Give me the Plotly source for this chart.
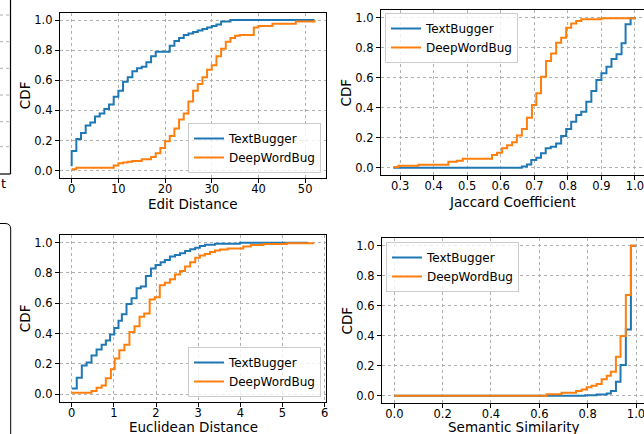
import plotly.graph_objects as go

# ---------------- data ----------------
series_names = ["TextBugger", "DeepWordBug"]

# Edit Distance
edit_tb_x = [0, 0, 1, 2, 3, 4, 5, 6, 7, 8, 9, 10, 11, 12, 13, 14, 15, 16, 17, 18, 21, 22, 23, 24,
             25, 26, 27, 28, 29, 30, 31, 32, 34, 52]
edit_tb_y = [0.03, 0.13, 0.21, 0.25, 0.30, 0.32, 0.36, 0.38, 0.41, 0.44, 0.49, 0.53, 0.59, 0.62, 0.66,
             0.68, 0.69, 0.72, 0.76, 0.79, 0.83, 0.86, 0.88, 0.90, 0.91, 0.92, 0.93, 0.94, 0.95, 0.96,
             0.97, 0.99, 1.0, 1.0]
edit_dwb_x = [0, 1, 9, 10, 11, 12, 13, 15, 17, 18, 19, 20, 21, 22, 23, 24, 25, 26, 27, 28, 29, 30,
              31, 32, 33, 34, 35, 36, 39, 40, 43, 48, 52]
edit_dwb_y = [0.01, 0.02, 0.035, 0.05, 0.055, 0.06, 0.065, 0.075, 0.09, 0.115, 0.15, 0.195, 0.23,
              0.28, 0.34, 0.38, 0.46, 0.53, 0.575, 0.62, 0.67, 0.70, 0.76, 0.81, 0.855, 0.88, 0.895,
              0.90, 0.95, 0.96, 0.975, 0.99, 1.0]

# Jaccard Coefficient
jac_tb_x = [0.28, 0.663, 0.678, 0.691, 0.706, 0.72, 0.734, 0.749, 0.765, 0.78, 0.795, 0.81, 0.825,
            0.84, 0.855, 0.87, 0.885, 0.9, 0.915, 0.93, 0.945, 0.96, 0.972, 0.987, 1.0]
jac_tb_y = [0.0, 0.008, 0.022, 0.051, 0.067, 0.096, 0.129, 0.14, 0.162, 0.211, 0.258, 0.307, 0.351,
            0.373, 0.44, 0.511, 0.585, 0.629, 0.673, 0.724, 0.756, 0.829, 0.956, 0.996, 1.0]
jac_dwb_x = [0.28, 0.295, 0.355, 0.444, 0.469, 0.487, 0.574, 0.589, 0.604, 0.619, 0.634, 0.648,
             0.663, 0.678, 0.693, 0.706, 0.72, 0.735, 0.75, 0.765, 0.78, 0.795, 0.81, 0.825, 0.84,
             0.90, 1.0]
jac_dwb_y = [0.005, 0.013, 0.02, 0.04, 0.047, 0.06, 0.085, 0.10, 0.13, 0.15, 0.17, 0.215, 0.258,
             0.333, 0.418, 0.496, 0.607, 0.711, 0.762, 0.833, 0.867, 0.933, 0.962, 0.978, 0.989,
             0.996, 1.0]

# Euclidean Distance
euc_tb_x = [0, 0.12, 0.24, 0.355, 0.47, 0.59, 0.71, 0.81, 0.91, 1.01, 1.11, 1.19, 1.30, 1.42, 1.54,
            1.64, 1.76, 1.88, 1.99, 2.11, 2.21, 2.33, 2.45, 2.57, 2.69, 2.81, 2.93, 3.04, 3.16, 3.40,
            3.99, 5.6]
euc_tb_y = [0.036, 0.108, 0.188, 0.208, 0.254, 0.295, 0.325, 0.353, 0.394, 0.436, 0.484, 0.527,
            0.595, 0.632, 0.699, 0.71, 0.78, 0.83, 0.852, 0.87, 0.886, 0.908, 0.918, 0.93, 0.945,
            0.957, 0.967, 0.978, 0.987, 0.993, 1.0, 1.0]
euc_dwb_x = [0, 0.47, 0.59, 0.71, 0.81, 0.93, 1.02, 1.13, 1.25, 1.37, 1.49, 1.61, 1.72, 1.85, 1.97,
             2.09, 2.21, 2.33, 2.45, 2.57, 2.69, 2.81, 2.93, 3.04, 3.16, 3.28, 3.40, 3.52, 3.70, 4.07,
             4.25, 4.55, 5.1, 5.73]
euc_dwb_y = [0.008, 0.02, 0.042, 0.056, 0.104, 0.164, 0.235, 0.29, 0.325, 0.41, 0.448, 0.51, 0.532,
             0.625, 0.64, 0.718, 0.735, 0.758, 0.79, 0.812, 0.843, 0.87, 0.9, 0.915, 0.925, 0.938,
             0.948, 0.955, 0.962, 0.975, 0.985, 0.992, 0.996, 1.0]

# Semantic Similarity
sem_tb_x = [0, 0.79, 0.837, 0.879, 0.896, 0.917, 0.936, 0.958, 0.979, 1.0]
sem_tb_y = [0.0, 0.003, 0.008, 0.015, 0.031, 0.093, 0.204, 0.442, 1.0, 1.0]
sem_dwb_x = [0, 0.63, 0.692, 0.752, 0.775, 0.796, 0.816, 0.837, 0.858, 0.879, 0.896, 0.917, 0.936,
             0.958, 0.979, 1.0]
sem_dwb_y = [0.0, 0.009, 0.02, 0.031, 0.042, 0.056, 0.067, 0.078, 0.109, 0.133, 0.16, 0.26, 0.398,
             0.671, 1.0, 1.0]

x_titles = ["Edit Distance", "Jaccard Coefficient", "Euclidean Distance", "Semantic Similarity"]
y_title = "CDF"

# ---------------- styling / layout ----------------
W, H = 644, 434
FONT = "DejaVu Sans"
BLUE, ORANGE = "#1f77b4", "#ff7f0e"


def fx(px):
    return px / W


def fy(py):
    return 1 - py / H


fig = go.Figure()

panels = [
    (edit_tb_x, edit_tb_y, edit_dwb_x, edit_dwb_y),
    (jac_tb_x, jac_tb_y, jac_dwb_x, jac_dwb_y),
    (euc_tb_x, euc_tb_y, euc_dwb_x, euc_dwb_y),
    (sem_tb_x, sem_tb_y, sem_dwb_x, sem_dwb_y),
]
for i, (bx, by, ox, oy) in enumerate(panels):
    k = "" if i == 0 else str(i + 1)
    lg = "legend" + k
    for xs, ys, col, nm in ((bx, by, BLUE, series_names[0]), (ox, oy, ORANGE, series_names[1])):
        fig.add_trace(go.Scatter(
            x=xs, y=ys, mode="lines", name=nm,
            line=dict(color=col, width=2, shape="hv"),
            xaxis="x" + k, yaxis="y" + k, legend=lg, showlegend=True,
        ))

axis_common = dict(
    showline=True, linecolor="black", linewidth=1.2,
    ticks="outside", ticklen=4, tickwidth=1, tickcolor="black",
    showgrid=True, gridcolor="#b0b0b0", griddash="dot", gridwidth=1,
    zeroline=False, automargin=False, ticklabeloverflow="allow",
    tickfont=dict(family=FONT, size=11.5, color="black"),
)

# pixel geometry of each panel: (left, right, top, bottom, xrange, xtick settings, mirror_y, title y)
geo = [
    (60, 325.7, 12.5, 178.2, [-2.5, 54.4], dict(tick0=0, dtick=10, tickformat="d"), True, 203.5),
    (381, 644, 10.2, 175.2, [0.2432, 1.0269], dict(tick0=0.3, dtick=0.1, tickformat=".1f"), False, 201.5),
    (60, 326, 235.1, 401.6, [-0.2776, 6.033], dict(tick0=0, dtick=1, tickformat="d"), True, 427),
    (382, 644, 238.2, 403.2, [-0.0509, 1.0331], dict(tick0=0, dtick=0.2, tickformat=".1f"), False, 427),
]

layout = dict(
    width=W, height=H, margin=dict(l=0, r=0, t=0, b=0),
    paper_bgcolor="white", plot_bgcolor="white", template="none",
    font=dict(family=FONT, color="black"),
)
annotations = []
for i, (l, r, t, b, xr, xt, my, ty) in enumerate(geo):
    k = "" if i == 0 else str(i + 1)
    xa = dict(axis_common, domain=[fx(l), fx(r)], range=xr, anchor="y" + k, mirror=True,
              tickmode="linear", ticklabelstandoff=-4, **xt)
    ya = dict(axis_common, domain=[fy(b), fy(t)], range=[-0.05, 1.05], anchor="x" + k, mirror=my,
              tickmode="linear", tick0=0, dtick=0.2, tickformat=".1f",
              title=dict(text=y_title, font=dict(family=FONT, size=13.5, color="black"), standoff=0))
    layout["xaxis" + k] = xa
    layout["yaxis" + k] = ya
    # x-axis title
    annotations.append(dict(text=x_titles[i], xref="paper", yref="paper", x=fx((l + r) / 2), y=fy(ty),
                            xanchor="center", yanchor="middle", showarrow=False, borderpad=0,
                            font=dict(family=FONT, size=13.5, color="black")))

leg_common = dict(bgcolor="rgba(255,255,255,0.8)", bordercolor="#cccccc", borderwidth=1,
                  font=dict(family=FONT, size=12, color="black"), tracegroupgap=0, itemwidth=30)
layout["legend"] = dict(leg_common, x=fx(321), xanchor="right", y=fy(173), yanchor="bottom")
layout["legend2"] = dict(leg_common, x=fx(385), xanchor="left", y=fy(13), yanchor="top")
layout["legend3"] = dict(leg_common, x=fx(321), xanchor="right", y=fy(397), yanchor="bottom")
layout["legend4"] = dict(leg_common, x=fx(386), xanchor="left", y=fy(242), yanchor="top")

# cropped neighbouring panel pieces on the left edge
shapes = [
    dict(type="line", xref="paper", yref="paper", x0=fx(10.5), x1=fx(10.5), y0=fy(0), y1=fy(174),
         line=dict(color="black", width=1.2)),
    dict(type="line", xref="paper", yref="paper", x0=fx(0), x1=fx(10.5), y0=fy(174), y1=fy(174),
         line=dict(color="black", width=1.2)),
    dict(type="path", xref="paper", yref="paper",
         path="M {:.5f},{:.5f} L {:.5f},{:.5f} Q {:.5f},{:.5f} {:.5f},{:.5f} L {:.5f},{:.5f}".format(
             fx(0), fy(223.5), fx(5), fy(223.5), fx(10.7), fy(223.5), fx(10.7), fy(229), fx(10.7), fy(436)),
         line=dict(color="black", width=1)),
]
for gy in [15, 41.7, 68.3, 95, 121.7, 146.7]:
    shapes.append(dict(type="line", xref="paper", yref="paper", x0=fx(0), x1=fx(10), y0=fy(gy), y1=fy(gy),
                       line=dict(color="#b0b0b0", width=1, dash="dot")))
layout["shapes"] = shapes
annotations.append(dict(text="t", xref="paper", yref="paper", x=fx(3), y=fy(183), showarrow=False,
                        font=dict(family=FONT, size=13, color="black"), xanchor="center", yanchor="middle"))
layout["annotations"] = annotations

fig.update_layout(**layout)
fig.write_html("out.html", config={"displayModeBar": False},
               post_script="document.body.style.margin='0px';document.body.style.padding='0px';"
                           "document.body.style.overflow='hidden';")
